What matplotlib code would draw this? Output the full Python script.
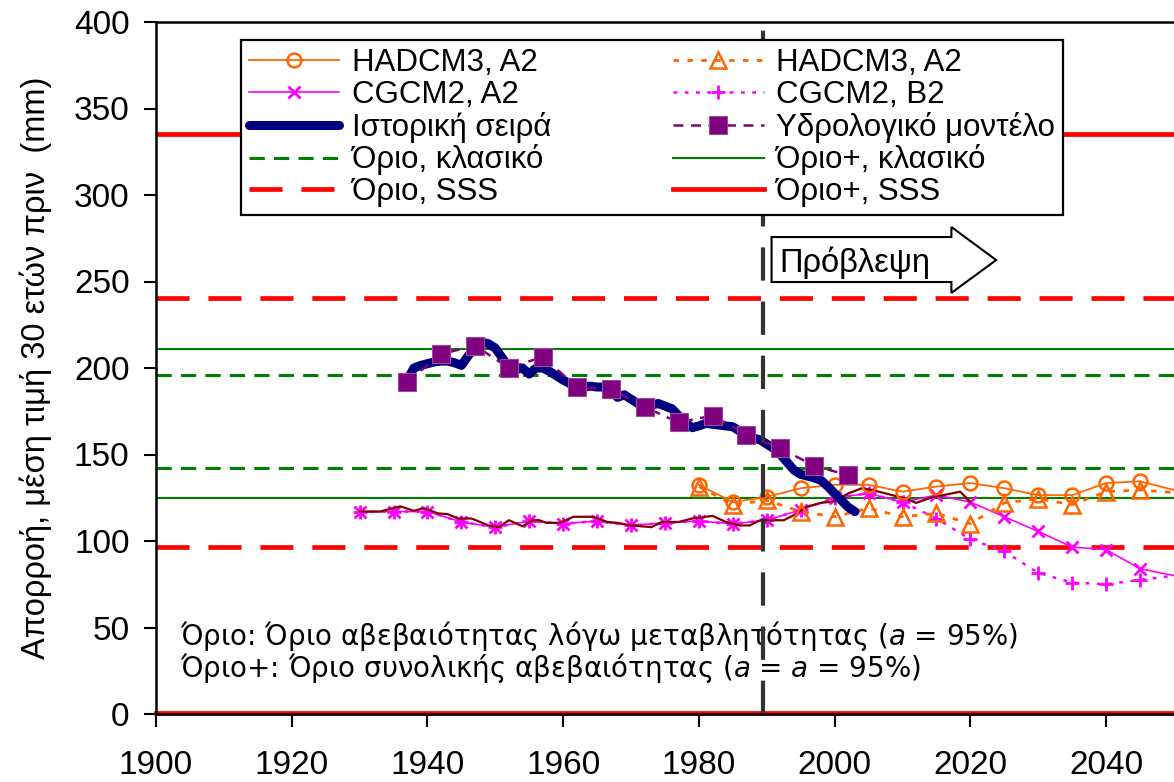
import matplotlib
matplotlib.use('Agg')
import matplotlib.pyplot as plt
from matplotlib.patches import Polygon

# --- data ---
hist_years = list(range(1937, 2004))
hist_vals = [193, 200, 201.5, 202.5, 203.5, 204, 204, 203, 201.5, 207,
             212, 215, 214, 211.5, 206, 200.5, 199, 200, 196.5, 200,
             200, 198, 195.5, 193, 191, 186, 189, 189.5, 189, 189,
             188.5, 183, 184.5, 182, 179.5, 177.5, 178.5, 179.5, 178, 176.5,
             172.5, 168.5, 165.5, 166.5, 168, 167.5, 167, 166.5, 166, 163.5,
             161, 159.5, 158.5, 156, 153.5, 150, 145.5, 141, 138.5, 137.5,
             136.5, 135, 131.5, 127.5, 123.5, 119.5, 117]

hydro_years = list(range(1937, 2003, 5))
hydro_vals = [192, 208, 213, 200, 206.5, 189, 188, 177.5, 168.5, 172.5, 161.5, 153.5, 143.5, 138]

scen_years = list(range(1980, 2051, 5))
had_a2_circ = [132.5, 122.5, 125.5, 130.5, 132.5, 132.5, 128.5, 131.5, 133.5, 130.5, 126.5, 126.5, 133.5, 134.5, 129.5]
had_a2_tri = [131.5, 121, 123.5, 117, 114, 119, 114, 116, 110, 122, 124.5, 121, 128.5, 129.5, 128]

cg_years = list(range(1930, 2051, 5))
cg_common = [117, 117, 117, 111, 108, 111.5, 110, 111.5, 109, 110.5, 111.5, 110, 112, 118, 125, 127.5, 122.5]
cg_a2_tail = [126.5, 122.5, 114, 105.5, 96.5, 95, 84, 80]
cg_b2_tail = [113, 101, 94, 81.5, 76, 75, 77.5, 80]
cg_a2 = cg_common + cg_a2_tail
cg_b2 = cg_common + cg_b2_tail

maroon_years = [1930, 1933, 1936, 1938, 1939.5, 1941.5, 1943, 1944.5, 1946.5, 1949,
                1950.5, 1952, 1954, 1955.5, 1956.5, 1957.5, 1959.5, 1961.5, 1964.5, 1966.5,
                1968, 1970, 1971.5, 1973, 1974.5, 1977, 1979, 1982, 1984, 1986,
                1987.5, 1989, 1992.5, 1994, 1996, 1998, 2000, 2002, 2004, 2005.5,
                2007.5, 2010.5, 2012, 2014.5, 2016, 2018.5, 2020]
maroon_vals = [117, 117, 120, 117.5, 119, 116, 115.5, 113, 113, 109,
               108, 112, 108.5, 112, 112, 110.5, 110.5, 114, 114, 111,
               110.5, 109, 108.5, 108, 111, 111, 113, 114.5, 111, 109,
               109, 112, 112, 115, 120, 122, 123, 127.5, 130.5, 129.5,
               127.5, 124.5, 122, 125.5, 126.5, 128.5, 122.5]

lim_classic = 196      # Όριο, κλασικό (upper)
lim_classic_lo = 142
limp_classic = 211     # Όριο+, κλασικό
limp_classic_lo = 125
lim_sss = 240.5
lim_sss_lo = 96.5
limp_sss = 335
limp_sss_lo = 0.5
forecast_start = 1989.5

labels = ['HADCM3, A2', 'CGCM2, A2', 'Ιστορική σειρά', 'Όριο, κλασικό', 'Όριο, SSS',
          'HADCM3, A2', 'CGCM2, B2', 'Υδρολογικό μοντέλο', 'Όριο+, κλασικό', 'Όριο+, SSS']

narrow = ['Liberation Sans Narrow', 'Liberation Sans', 'DejaVu Sans']
plt.rcParams['font.family'] = ['Liberation Sans', 'DejaVu Sans']
plt.rcParams['mathtext.fontset'] = 'dejavusans'

fig = plt.figure(figsize=(11.74, 7.82), dpi=100)
ax = fig.add_axes([156/1174, 1-714/782, 1-156/1174, (714-22)/782])

# limit lines
h_gd, = ax.plot([1900, 2050], [lim_classic]*2, color='#008000', lw=2.2, dashes=(5, 3))
ax.plot([1900, 2050], [lim_classic_lo]*2, color='#008000', lw=2.2, dashes=(5, 3))
h_gs, = ax.plot([1900, 2050], [limp_classic]*2, color='#008000', lw=1.5)
ax.plot([1900, 2050], [limp_classic_lo]*2, color='#008000', lw=1.5)
h_rd, = ax.plot([1900, 2050], [lim_sss]*2, color='#FF0000', lw=3.4, dashes=(7, 4))
ax.plot([1900, 2050], [lim_sss_lo]*2, color='#FF0000', lw=3.4, dashes=(7, 4))
h_rs, = ax.plot([1900, 2050], [limp_sss]*2, color='#FF0000', lw=3.4)
ax.plot([1900, 2050], [limp_sss_lo]*2, color='#FF0000', lw=3.4, clip_on=False)

# vertical forecast line
ax.axvline(forecast_start, color='#333333', lw=3, dashes=(8, 5), zorder=6)

# scenarios
h_cb2, = ax.plot(cg_years, cg_b2, color='#FF00FF', lw=1.8, dashes=(1.5, 3),
                 marker='+', ms=10, mew=2, markevery=slice(0, -1), zorder=3)
h_ca2, = ax.plot(cg_years, cg_a2, color='#FF00FF', lw=1.2,
                 marker='x', ms=8, mew=2, markevery=slice(0, -1), zorder=3)
ax.plot(maroon_years, maroon_vals, color='#800000', lw=1.6, zorder=3.5)
h_ht, = ax.plot(scen_years, had_a2_tri, color='#FF6600', lw=2, dashes=(2, 3),
                marker='^', ms=11, mfc='none', mew=1.8, markevery=slice(0, -1), zorder=4)
h_hc, = ax.plot(scen_years, had_a2_circ, color='#FF6600', lw=1.3,
                marker='o', ms=10, mfc='none', mew=1.8, markevery=slice(0, -1), zorder=4)

# historic + model
h_hist, = ax.plot(hist_years, hist_vals, color='#000080', lw=6.5, solid_joinstyle='round',
                  solid_capstyle='round', zorder=5)
h_hyd, = ax.plot(hydro_years, hydro_vals, color='#800080', lw=1.8, dashes=(4, 3),
                 marker='s', ms=13.5, mec='#9a4a9a', mew=0.8, zorder=5.5)

ax.set_xlim(1900, 2050)
ax.set_ylim(0, 400)
ax.set_xticks(range(1900, 2041, 20))
ax.set_yticks(range(0, 401, 50))
ax.tick_params(direction='out', length=9, width=1.5, labelsize=24)
ax.tick_params(axis='x', pad=17)
ax.tick_params(axis='y', pad=10)
ax.spines['right'].set_visible(False)
for s in ['left', 'bottom', 'top']:
    ax.spines[s].set_linewidth(1.8)
ax.set_ylabel('Απορροή, μέση τιμή 30 ετών πριν  (mm)', fontsize=23.5, family=narrow, labelpad=16)

# forecast arrow
arrow = Polygon([(1990.7, 275.7), (2017.2, 275.7), (2017.2, 281.5), (2023.8, 262.4),
                 (2017.2, 243.4), (2017.2, 249.7), (1990.7, 249.7)],
                closed=True, fc='white', ec='black', lw=1.5, zorder=7)
ax.add_patch(arrow)
ax.text(1991.9, 261, 'Πρόβλεψη', fontsize=23.5, va='center', ha='left', zorder=8)

# notes
ax.text(0.024, 45, 'Όριο: Όριο αβεβαιότητας λόγω μεταβλητότητας ($\\it{a}$ = 95%)',
        transform=ax.get_yaxis_transform(), fontsize=20, family=['DejaVu Sans'],
        va='center', ha='left')
ax.text(0.024, 26.5, 'Όριο+: Όριο συνολικής αβεβαιότητας ($\\it{a}$ = $\\it{a}$ = 95%)',
        transform=ax.get_yaxis_transform(), fontsize=20, family=['DejaVu Sans'],
        va='center', ha='left')

handles = [h_hc, h_ca2, h_hist, h_gd, h_rd, h_ht, h_cb2, h_hyd, h_gs, h_rs]
leg = ax.legend(handles, labels, ncol=2, loc='upper left', mode='expand',
                bbox_to_anchor=(241/1174, 1-218/782, (1063-241)/1174, (218-40)/782),
                bbox_transform=fig.transFigure, prop={'family': narrow, 'size': 22.5},
                numpoints=1, handlelength=2.9, handletextpad=0.4, labelspacing=0.06,
                borderpad=0.25, columnspacing=1.0, fancybox=False, framealpha=1,
                edgecolor='black', borderaxespad=0)
leg.get_frame().set_linewidth(1.6)
leg.set_zorder(10)

fig.savefig('out.png', dpi=100)
